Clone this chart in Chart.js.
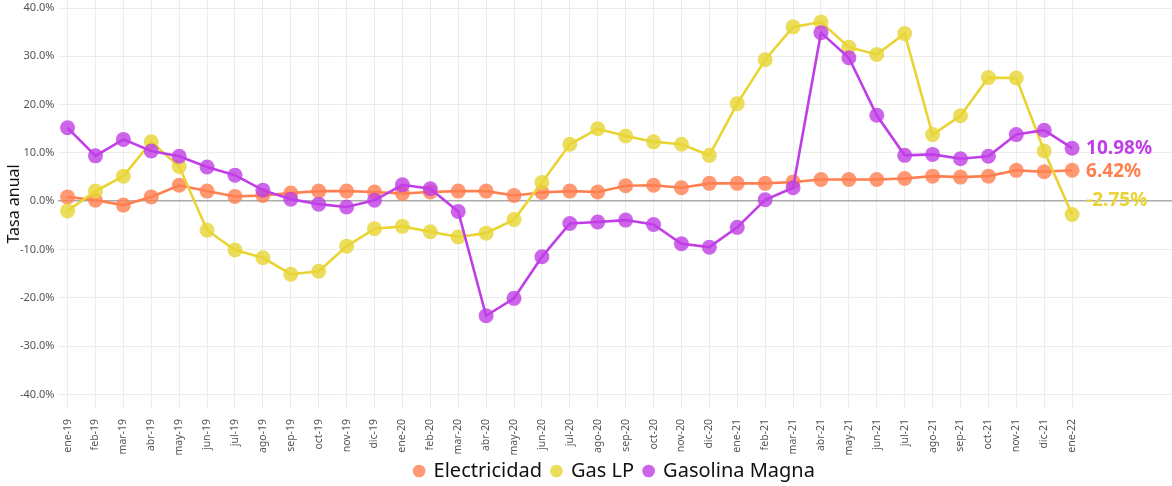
<!DOCTYPE html>
<html>
<head>
<meta charset="utf-8">
<script src="https://cdn.jsdelivr.net/npm/chart.js@4/dist/chart.umd.min.js"></script>
<style>
  html, body { margin: 0; padding: 0; background: #fff; }
  #wrap { width: 1172px; height: 486px; position: relative; }
</style>
</head>
<body>
<div id="wrap"><canvas id="chart"></canvas></div>
<script>
const months = ['ene-19','feb-19','mar-19','abr-19','may-19','jun-19','jul-19','ago-19','sep-19','oct-19','nov-19','dic-19',
  'ene-20','feb-20','mar-20','abr-20','may-20','jun-20','jul-20','ago-20','sep-20','oct-20','nov-20','dic-20',
  'ene-21','feb-21','mar-21','abr-21','may-21','jun-21','jul-21','ago-21','sep-21','oct-21','nov-21','dic-21','ene-22'];

const electricidad = [0.9, 0.2, -0.8, 0.9, 3.3, 2.1, 1.0, 1.2, 1.7, 2.1, 2.1, 1.9,
  1.6, 1.9, 2.1, 2.1, 1.2, 1.8, 2.1, 1.9, 3.2, 3.3, 2.8, 3.7,
  3.7, 3.7, 4.0, 4.5, 4.5, 4.5, 4.7, 5.2, 5.0, 5.2, 6.4, 6.1, 6.42];

const gasLP = [-2.0, 2.1, 5.2, 12.3, 7.2, -6.0, -10.1, -11.7, -15.1, -14.5, -9.3, -5.7,
  -5.2, -6.3, -7.4, -6.6, -3.8, 3.9, 11.8, 15.0, 13.5, 12.3, 11.8, 9.5,
  20.2, 29.3, 36.1, 37.1, 31.9, 30.4, 34.7, 13.8, 17.7, 25.6, 25.5, 10.4, -2.75];

const gasolinaMagna = [15.2, 9.4, 12.8, 10.4, 9.3, 7.1, 5.4, 2.3, 0.4, -0.6, -1.2, 0.2,
  3.4, 2.6, -2.1, -23.7, -20.1, -11.5, -4.6, -4.3, -3.9, -4.8, -8.8, -9.5,
  -5.4, 0.3, 2.8, 34.9, 29.7, 17.8, 9.5, 9.7, 8.8, 9.3, 13.8, 14.7, 10.98];

const yTicks = [-40, -30, -20, -10, 0, 10, 20, 30, 40];

const colors = {
  elec: '#FF7F50',
  gas: '#E9D433',
  magna: '#C03EE6'
};

const toXY = arr => arr.map((v, i) => ({ x: i, y: v }));

function hexA(hex, a) {
  const n = parseInt(hex.slice(1), 16);
  return `rgba(${(n >> 16) & 255}, ${(n >> 8) & 255}, ${n & 255}, ${a})`;
}

function series(label, values, color, order, labelOffset) {
  return {
    label,
    data: toXY(values),
    borderColor: color,
    backgroundColor: hexA(color, 0.8),
    pointBackgroundColor: hexA(color, 0.8),
    pointBorderWidth: 0,
    pointRadius: 7.5,
    pointHoverRadius: 7.5,
    borderWidth: 2.6,
    tension: 0,
    order,
    endOffset: labelOffset
  };
}

// last-value labels on the right of each line
const endLabels = {
  id: 'endLabels',
  afterDatasetsDraw(chart) {
    const { ctx } = chart;
    const xs = chart.scales.x, ys = chart.scales.y;
    ctx.save();
    ctx.font = 'bold 19px "Noto Sans"';
    ctx.textAlign = 'left';
    ctx.textBaseline = 'middle';
    chart.data.datasets.forEach(ds => {
      const last = ds.data[ds.data.length - 1];
      ctx.fillStyle = ds.borderColor;
      ctx.fillText(last.y.toFixed(2) + '%', xs.getPixelForValue(last.x) + 14, ys.getPixelForValue(last.y) + ds.endOffset);
    });
    ctx.restore();
  }
};

// shorter legend box, centred under the plot panel rather than the canvas
const legendFit = {
  id: 'legendFit',
  beforeLayout(chart) {
    const lg = chart.legend;
    if (lg && !lg._patched) {
      const fit = lg.fit.bind(lg);
      const draw = lg.draw.bind(lg);
      lg.fit = function () { fit(); this.height = 34; };
      lg.draw = function () {
        const c = this.ctx;
        const area = chart.chartArea;
        const dx = (area.left + area.right) / 2 - (this.left + this.right) / 2;
        c.save();
        c.translate(dx, -7);
        draw();
        c.restore();
      };
      lg._patched = true;
    }
  }
};

new Chart(document.getElementById('chart').getContext('2d'), {
  type: 'line',
  data: {
    datasets: [
      series('Electricidad', electricidad, colors.elec, 3, 1),
      series('Gas LP', gasLP, colors.gas, 2, -14),
      series('Gasolina Magna', gasolinaMagna, colors.magna, 1, 0)
    ]
  },
  options: {
    responsive: true,
    maintainAspectRatio: false,
    animation: false,
    layout: { autoPadding: false, padding: { left: 6, right: 0, top: 0, bottom: -6 } },
    plugins: {
      legend: {
        position: 'bottom',
        labels: {
          usePointStyle: true,
          pointStyle: 'circle',
          boxWidth: 9,
          boxHeight: 9,
          padding: 10,
          color: '#111',
          font: { family: 'Noto Sans', size: 20 },
          sort: (a, b) => a.datasetIndex - b.datasetIndex
        }
      },
      tooltip: { enabled: false }
    },
    scales: {
      x: {
        type: 'linear',
        min: -0.36,
        max: 39.58,
        afterBuildTicks: axis => { axis.ticks = months.map((m, i) => ({ value: i })); },
        afterFit: s => { s.paddingLeft = 0; s.paddingRight = 0; s.height = 50; },
        ticks: {
          autoSkip: false,
          minRotation: 90,
          maxRotation: 90,
          color: '#555',
          padding: 11,
          font: { family: 'Noto Sans', size: 10.5 },
          callback: v => months[v]
        },
        grid: { color: '#ececec', lineWidth: 1, drawTicks: false },
        border: { display: false }
      },
      y: {
        min: -42.8,
        max: 41.66,
        afterBuildTicks: axis => { axis.ticks = yTicks.map(v => ({ value: v })); },
        afterFit: s => { s.paddingTop = 0; s.paddingBottom = 0; s.width -= 5; },
        ticks: {
          color: '#555',
          padding: 3,
          font: { family: 'Noto Sans', size: 11 },
          callback: v => v.toFixed(1) + '%'
        },
        title: {
          display: true,
          text: 'Tasa anual',
          color: '#111',
          padding: 0,
          font: { family: 'Noto Sans', size: 16, lineHeight: 1 }
        },
        grid: {
          color: ctx => ctx.tick && ctx.tick.value === 0 ? '#ababab' : '#ececec',
          lineWidth: ctx => ctx.tick && ctx.tick.value === 0 ? 1.6 : 1,
          drawTicks: false
        },
        border: { display: false }
      }
    }
  },
  plugins: [endLabels, legendFit]
});
</script>
</body>
</html>
